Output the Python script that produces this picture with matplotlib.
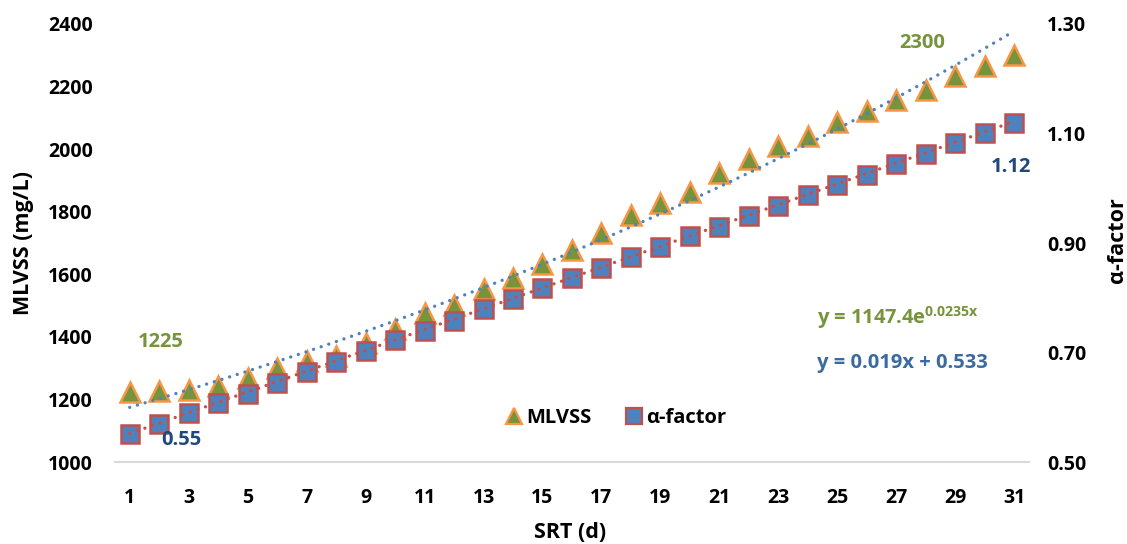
import numpy as np
import matplotlib
matplotlib.use("Agg")
import matplotlib.pyplot as plt
from matplotlib.lines import Line2D

FONT = 'Open Sans'
plt.rcParams['font.family'] = [FONT, 'DejaVu Sans']
plt.rcParams['font.weight'] = 'bold'
plt.rcParams['mathtext.fontset'] = 'custom'
plt.rcParams['mathtext.rm'] = FONT + ':bold'
plt.rcParams['mathtext.bf'] = FONT + ':bold'
plt.rcParams['mathtext.it'] = FONT + ':bold'

srt = list(range(1, 32))
mlvss = [1225, 1228, 1230, 1244, 1267, 1301, 1322, 1338, 1381, 1426, 1475, 1503, 1554,
         1589, 1633, 1679, 1733, 1788, 1828, 1864, 1924, 1969, 2009, 2043, 2088, 2123,
         2158, 2190, 2233, 2267, 2300]
alpha = [0.551, 0.569, 0.589, 0.607, 0.625, 0.645, 0.665, 0.683, 0.703, 0.722, 0.740,
         0.758, 0.779, 0.798, 0.817, 0.836, 0.854, 0.874, 0.893, 0.912, 0.930, 0.949,
         0.968, 0.987, 1.006, 1.025, 1.044, 1.063, 1.082, 1.101, 1.120]
xticks = list(range(1, 32, 2))
left_ticks = [1000, 1200, 1400, 1600, 1800, 2000, 2200, 2400]
right_ticks = [0.50, 0.70, 0.90, 1.10, 1.30]
exp_a, exp_b = 1147.4, 0.0235
lin_m, lin_c = 0.019, 0.533

GREEN = '#77933C'
ORANGE = '#F79646'
BLUE = '#4F81BD'
RED = '#C0504D'
NAVY = '#1F497D'
EQBLUE = '#3B6AA0'

fig = plt.figure(figsize=(11.27, 5.44), dpi=100)
ax = fig.add_axes([0.102, 0.1507, 0.811, 0.8052])
ax2 = ax.twinx()

x = np.array(srt, dtype=float)
ax.plot(x, mlvss, linestyle='none', marker='^', markersize=14, markerfacecolor=GREEN,
        markeredgecolor=ORANGE, markeredgewidth=1.8, zorder=3)
ax.plot(x, exp_a * np.exp(exp_b * x), color=BLUE, lw=2.4, linestyle=(0, (0.01, 2.4)),
        dash_capstyle='round', zorder=4)

ax2.plot(x, alpha, linestyle='none', marker='s', markersize=13, markerfacecolor=BLUE,
         markeredgecolor=RED, markeredgewidth=1.8, zorder=3)
ax2.plot(x, lin_m * x + lin_c, color=RED, lw=2.4, linestyle=(0, (0.01, 2.4)),
         dash_capstyle='round', zorder=4)

ax.set_xlim(0.5, 31.5)
ax.set_ylim(1000, 2400)
ax2.set_ylim(0.5, 1.3)
ax.set_xticks(xticks)
ax.set_yticks(left_ticks)
ax2.set_yticks(right_ticks)
ax2.set_yticklabels([f'{v:.2f}' for v in right_ticks])

for a in (ax, ax2):
    for s in a.spines.values():
        s.set_visible(False)
ax.spines['bottom'].set_visible(True)
ax.spines['bottom'].set_color('#D9D9D9')
ax.spines['bottom'].set_linewidth(1.5)

TS = 14
ax.tick_params(axis='x', length=0, pad=19, labelsize=TS)
ax.tick_params(axis='y', length=0, pad=16, labelsize=TS)
ax2.tick_params(axis='y', length=0, pad=13, labelsize=TS)
for lbl in ax.get_xticklabels() + ax.get_yticklabels() + ax2.get_yticklabels():
    lbl.set_fontweight('bold')

AS = 15.5
ax.set_xlabel('SRT (d)', fontsize=AS, fontweight='bold')
ax.set_ylabel('MLVSS (mg/L)', fontsize=AS, fontweight='bold')
ax2.set_ylabel('α-factor', fontsize=AS, fontweight='bold', rotation=90)
ax.xaxis.set_label_coords(0.498, -0.16)
ax.xaxis.label.set_va('center')
ax.yaxis.set_label_coords(-0.1, 0.5)
ax.yaxis.label.set_va('center')
ax2.yaxis.set_label_coords(1.0974, 0.507)
ax2.yaxis.label.set_va('center')

LS = 14.5
ax.annotate(f'{mlvss[0]}', (x[0], mlvss[0]), xytext=(22, 36), textcoords='offset points',
            ha='center', va='center', color=GREEN, fontsize=LS, fontweight='bold')
ax.annotate(f'{mlvss[-1]}', (x[-1], mlvss[-1]), xytext=(-66, 9), textcoords='offset points',
            ha='center', va='center', color=GREEN, fontsize=LS, fontweight='bold')
ax2.annotate(f'{alpha[0]:.2f}', (x[0], alpha[0]), xytext=(37, -4), textcoords='offset points',
             ha='center', va='center', color=NAVY, fontsize=LS, fontweight='bold')
ax2.annotate(f'{alpha[-1]:.2f}', (x[-1], alpha[-1]), xytext=(-2, -32), textcoords='offset points',
             ha='center', va='center', color=NAVY, fontsize=LS, fontweight='bold')

ax2.text(0.768, 0.329, f'y = {exp_a}e$^{{\\mathbf{{{exp_b}x}}}}$', transform=ax2.transAxes,
         ha='left', va='center', color=GREEN, fontsize=14.5, fontweight='bold')
ax2.text(0.768, 0.226, f'y = {lin_m}x + {lin_c}', transform=ax2.transAxes,
         ha='left', va='center', color=EQBLUE, fontsize=14.5, fontweight='bold')

handles = [
    Line2D([], [], linestyle='none', marker='^', markersize=11, markerfacecolor=GREEN,
           markeredgecolor=ORANGE, markeredgewidth=1.6, label='MLVSS'),
    Line2D([], [], linestyle='none', marker='s', markersize=11, markerfacecolor=BLUE,
           markeredgecolor=RED, markeredgewidth=1.6, label='α-factor'),
]
leg = ax2.legend(handles=handles, loc='center', bbox_to_anchor=(0.547, 0.1), ncol=2,
                 frameon=False, handletextpad=0.1, columnspacing=1.6,
                 handlelength=1.0, prop={'weight': 'bold', 'size': 14.5})

fig.savefig('out.png', dpi=100)
